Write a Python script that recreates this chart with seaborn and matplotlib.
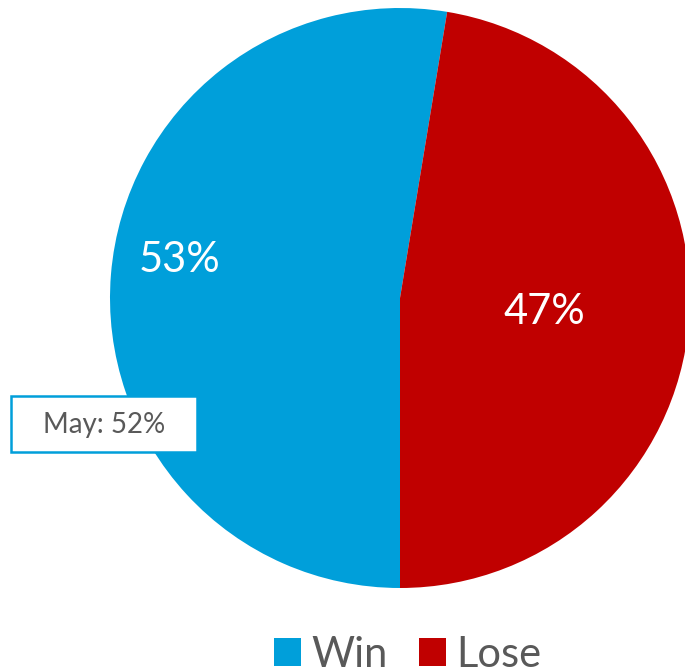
import numpy as np
import matplotlib
matplotlib.use("Agg")
import matplotlib.pyplot as plt
import seaborn as sns
from matplotlib.patches import Patch, Rectangle

# --- Data ---
categories = ["Win", "Lose"]
shares = [52.6, 47.4]
colors = ["#009FDA", "#C00000"]
callout_text = "May: 52%"

sns.set_theme(style="white")
plt.rcParams["font.family"] = ["Lato", "DejaVu Sans"]

fig = plt.figure(figsize=(6.85, 6.71), dpi=100)
ax = fig.add_axes([110 / 685, 83 / 671, 580 / 685, 580 / 671])

wedges, texts, autotexts = ax.pie(
    shares,
    colors=colors,
    startangle=270,
    counterclock=False,
    autopct="%.0f%%",
    radius=1.0,
    wedgeprops={"linewidth": 0},
    textprops={"color": "white", "fontsize": 30},
)
ax.set_xlim(-1, 1)
ax.set_ylim(-1, 1)
ax.set_aspect("equal")

# label placement differs per slice (distance, angle nudge)
for w, t, dist, nudge in zip(wedges, autotexts, [0.77, 0.50], [-5.0, -1.0]):
    ang = np.deg2rad((w.theta1 + w.theta2) / 2 + nudge)
    t.set_position((dist * np.cos(ang), dist * np.sin(ang)))

# callout box
fig.patches.append(Rectangle((11 / 685, 1 - 452 / 671), 186 / 685, 56 / 671,
                             transform=fig.transFigure, facecolor="white",
                             edgecolor="#009FDA", linewidth=1.8, zorder=5))
fig.text(104 / 685, 1 - 425 / 671, callout_text, ha="center", va="center",
         fontsize=20, color="#595959", zorder=6)

# legend
handles = [Patch(facecolor=c, edgecolor="none", label=l) for c, l in zip(colors, categories)]
fig.legend(handles=handles, loc="center", bbox_to_anchor=(408 / 685, 1 - 655 / 671),
           ncol=2, frameon=False, fontsize=30, labelcolor="#595959",
           handlelength=0.65, handleheight=0.65, handletextpad=0.25,
           columnspacing=0.75, borderpad=0)

fig.savefig("out.png", dpi=100)
